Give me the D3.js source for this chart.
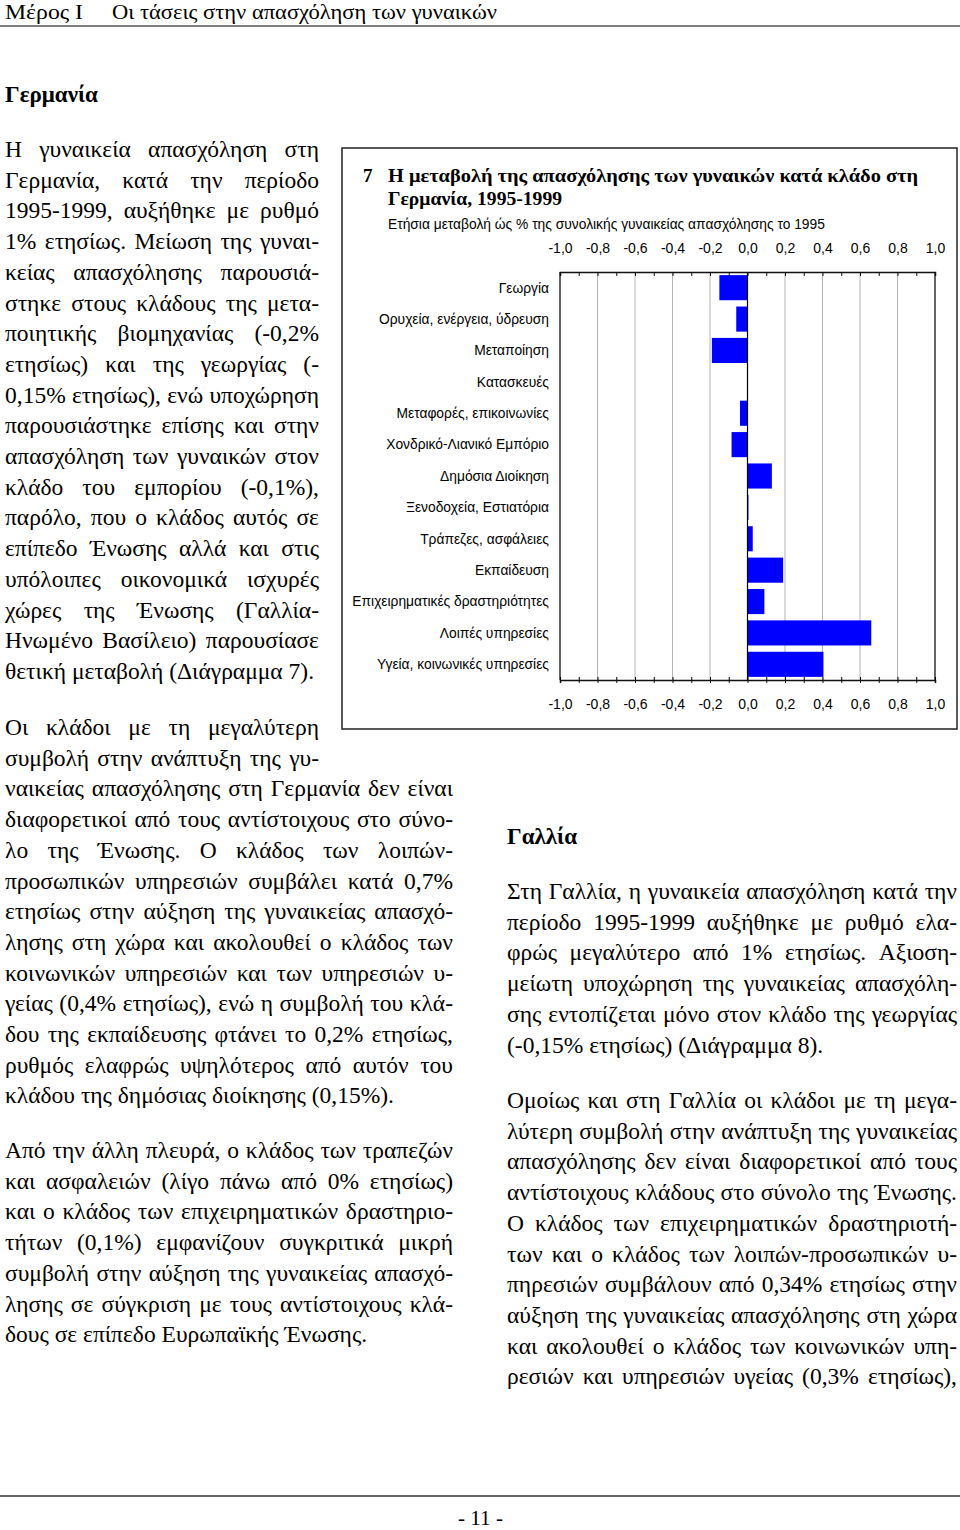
<!DOCTYPE html>
<html><head><meta charset="utf-8">
<script src="https://cdn.jsdelivr.net/npm/d3@7"></script>
<style>
html,body{margin:0;padding:0;background:#fff;}
svg{display:block;}
</style></head><body>
<svg id="page" width="960" height="1530"></svg>
<script>
// ---------------- DATA ----------------
const categories = ["Γεωργία","Ορυχεία, ενέργεια, ύδρευση","Μεταποίηση","Κατασκευές","Μεταφορές, επικοινωνίες","Χονδρικό-Λιανικό Εμπόριο","Δημόσια Διοίκηση","Ξενοδοχεία, Εστιατόρια","Τράπεζες, ασφάλειες","Εκπαίδευση","Επιχειρηματικές δραστηριότητες","Λοιπές υπηρεσίες","Υγεία, κοινωνικές υπηρεσίες"];
const values = [-0.15,-0.06,-0.19,0.0,-0.04,-0.085,0.13,0.005,0.028,0.19,0.09,0.66,0.405];
const tickValues = [-1.0,-0.8,-0.6,-0.4,-0.2,0.0,0.2,0.4,0.6,0.8,1.0];
const minorTickValues = [-1.0,-0.9,-0.8,-0.7,-0.6,-0.5,-0.4,-0.3,-0.2,-0.1,0.0,0.1,0.2,0.3,0.4,0.5,0.6,0.7,0.8,0.9,1.0];
const gridValues = [-0.8,-0.6,-0.4,-0.2,0.2,0.4,0.6,0.8];

const chartTitle1 = "Η μεταβολή της απασχόλησης των γυναικών κατά κλάδο στη";
const chartTitle2 = "Γερμανία, 1995-1999";
const chartNumber = "7";
const chartSubtitle = "Ετήσια μεταβολή ώς % της συνολικής γυναικείας απασχόλησης το 1995";

const headerLeft = "Μέρος Ι";
const headerRight = "Οι τάσεις στην απασχόληση των γυναικών";
const footerText = "- 11 -";
const heading1 = "Γερμανία";
const heading2 = "Γαλλία";

const para1 = ["Η γυναικεία απασχόληση στη","Γερμανία, κατά την περίοδο","1995-1999, αυξήθηκε με ρυθμό","1% ετησίως. Μείωση της γυναι-","κείας απασχόλησης παρουσιά-","στηκε στους κλάδους της μετα-","ποιητικής βιομηχανίας (-0,2%","ετησίως) και της γεωργίας (-","0,15% ετησίως), ενώ υποχώρηση","παρουσιάστηκε επίσης και στην","απασχόληση των γυναικών στον","κλάδο του εμπορίου (-0,1%),","παρόλο, που ο κλάδος αυτός σε","επίπεδο Ένωσης αλλά και στις","υπόλοιπες οικονομικά ισχυρές","χώρες της Ένωσης (Γαλλία-","Ηνωμένο Βασίλειο) παρουσίασε","θετική μεταβολή (Διάγραμμα 7)."];
const para2 = ["Οι κλάδοι με τη μεγαλύτερη","συμβολή στην ανάπτυξη της γυ-","ναικείας απασχόλησης στη Γερμανία δεν είναι","διαφορετικοί από τους αντίστοιχους στο σύνο-","λο της Ένωσης. Ο κλάδος των λοιπών-","προσωπικών υπηρεσιών συμβάλει κατά 0,7%","ετησίως στην αύξηση της γυναικείας απασχό-","λησης στη χώρα και ακολουθεί ο κλάδος των","κοινωνικών υπηρεσιών και των υπηρεσιών υ-","γείας (0,4% ετησίως), ενώ η συμβολή του κλά-","δου της εκπαίδευσης φτάνει το 0,2% ετησίως,","ρυθμός ελαφρώς υψηλότερος από αυτόν του","κλάδου της δημόσιας διοίκησης (0,15%)."];
const para3 = ["Από την άλλη πλευρά, ο κλάδος των τραπεζών","και ασφαλειών (λίγο πάνω από 0% ετησίως)","και ο κλάδος των επιχειρηματικών δραστηριο-","τήτων (0,1%) εμφανίζουν συγκριτικά μικρή","συμβολή στην αύξηση της γυναικείας απασχό-","λησης σε σύγκριση με τους αντίστοιχους κλά-","δους σε επίπεδο Ευρωπαϊκής Ένωσης."];
const para4 = ["Στη Γαλλία, η γυναικεία απασχόληση κατά την","περίοδο 1995-1999 αυξήθηκε με ρυθμό ελα-","φρώς μεγαλύτερο από 1% ετησίως. Αξιοση-","μείωτη υποχώρηση της γυναικείας απασχόλη-","σης εντοπίζεται μόνο στον κλάδο της γεωργίας","(-0,15% ετησίως) (Διάγραμμα 8)."];
const para5 = ["Ομοίως και στη Γαλλία οι κλάδοι με τη μεγα-","λύτερη συμβολή στην ανάπτυξη της γυναικείας","απασχόλησης δεν είναι διαφορετικοί από τους","αντίστοιχους κλάδους στο σύνολο της Ένωσης.","Ο κλάδος των επιχειρηματικών δραστηριοτή-","των και ο κλάδος των λοιπών-προσωπικών υ-","πηρεσιών συμβάλουν από 0,34% ετησίως στην","αύξηση της γυναικείας απασχόλησης στη χώρα","και ακολουθεί ο κλάδος των κοινωνικών υπη-","ρεσιών και υπηρεσιών υγείας (0,3% ετησίως),"];

// ---------------- PAGE ----------------
const svg = d3.select("#page");
const SERIF = "'Liberation Serif','Times New Roman',serif";
const SANS = "'Liberation Sans',Arial,sans-serif";
const BODY_SIZE = 23.5;
const LH = 30.7;

function measure(txt, size, family, weight) {
  const t = svg.append("text").attr("font-family", family).attr("font-size", size)
    .attr("font-weight", weight || "normal").text(txt);
  const w = t.node().getComputedTextLength();
  t.remove();
  return w;
}

function drawPara(lines, x0, baseline0, widths, lastJustified) {
  const g = svg.append("g").attr("font-family", SERIF).attr("font-size", BODY_SIZE).attr("fill", "#000");
  lines.forEach((line, i) => {
    const y = baseline0 + i * LH;
    const w = Array.isArray(widths) ? widths[i] : widths;
    const justify = (i < lines.length - 1) || lastJustified;
    const t = g.append("text").attr("y", y);
    if (!justify) { t.attr("x", x0).text(line); return; }
    const words = line.split(" ");
    const ws = words.map(wd => measure(wd, BODY_SIZE, SERIF));
    const gap = words.length > 1 ? (w - d3.sum(ws)) / (words.length - 1) : 0;
    let cx = x0;
    words.forEach((wd, k) => { t.append("tspan").attr("x", cx).text(wd); cx += ws[k] + gap; });
  });
}

// header
svg.append("text").attr("x", 5).attr("y", 19).attr("font-family", SERIF).attr("font-size", 21)
  .attr("textLength", 78).attr("lengthAdjust", "spacingAndGlyphs").text(headerLeft);
svg.append("text").attr("x", 112).attr("y", 19).attr("font-family", SERIF).attr("font-size", 21)
  .attr("textLength", 385).attr("lengthAdjust", "spacingAndGlyphs").text(headerRight);
svg.append("line").attr("x1", 0).attr("x2", 960).attr("y1", 26).attr("y2", 26).attr("stroke", "#555").attr("stroke-width", 1.6);

// footer
svg.append("line").attr("x1", 0).attr("x2", 960).attr("y1", 1496).attr("y2", 1496).attr("stroke", "#666").attr("stroke-width", 2);
svg.append("text").attr("x", 458).attr("y", 1525).attr("font-family", SERIF).attr("font-size", 20)
  .attr("textLength", 45).attr("lengthAdjust", "spacingAndGlyphs").text(footerText);

// headings
svg.append("text").attr("x", 5).attr("y", 102).attr("font-family", SERIF).attr("font-size", 23).attr("font-weight", "bold").text(heading1);
svg.append("text").attr("x", 507).attr("y", 844).attr("font-family", SERIF).attr("font-size", 23).attr("font-weight", "bold").text(heading2);

// paragraphs
drawPara(para1, 5, 157, 314, false);
drawPara(para2, 5, 735, [314, 314, 448, 448, 448, 448, 448, 448, 448, 448, 448, 448, 448], false);
drawPara(para3, 5, 1158, 448, false);
drawPara(para4, 507, 899, 450, false);
drawPara(para5, 507, 1108, 450, true);

// ---------------- CHART ----------------
svg.append("rect").attr("x", 342).attr("y", 148).attr("width", 615).attr("height", 581)
  .attr("fill", "none").attr("stroke", "#222").attr("stroke-width", 1.5);

svg.append("text").attr("x", 363).attr("y", 182).attr("font-family", SERIF).attr("font-size", 19).attr("font-weight", "bold").text(chartNumber);
svg.append("text").attr("x", 388).attr("y", 182).attr("font-family", SERIF).attr("font-size", 19).attr("font-weight", "bold")
  .attr("textLength", 530).attr("lengthAdjust", "spacingAndGlyphs").text(chartTitle1);
svg.append("text").attr("x", 388).attr("y", 205).attr("font-family", SERIF).attr("font-size", 19).attr("font-weight", "bold")
  .attr("textLength", 174).attr("lengthAdjust", "spacingAndGlyphs").text(chartTitle2);
svg.append("text").attr("x", 388).attr("y", 229).attr("font-family", SANS).attr("font-size", 13.8).text(chartSubtitle);

const xL = 560, xR = 935, yT = 272, yB = 680;
const x = d3.scaleLinear().domain([-1, 1]).range([xL, xR]);
const y = d3.scaleBand().domain(categories).range([yT, yB]).paddingInner(0.2).paddingOuter(0.1);
const loc = d3.formatLocale({decimal: ",", thousands: ".", grouping: [3], currency: ["", "€"], minus: "-"});
const fmt = loc.format(".1f");

const chart = svg.append("g");
chart.selectAll("line.grid").data(gridValues).join("line").attr("class", "grid")
  .attr("x1", d => x(d)).attr("x2", d => x(d)).attr("y1", yT).attr("y2", yB)
  .attr("stroke", "#b4b4b4").attr("stroke-width", 1);

chart.selectAll("rect.bar").data(values).join("rect").attr("class", "bar")
  .attr("x", d => x(Math.min(0, d))).attr("width", d => Math.abs(x(d) - x(0)))
  .attr("y", (d, i) => y(categories[i])).attr("height", y.bandwidth())
  .attr("fill", "#0000ff");

chart.append("line").attr("x1", x(0)).attr("x2", x(0)).attr("y1", yT).attr("y2", yB).attr("stroke", "#000").attr("stroke-width", 1.2);
chart.append("line").attr("x1", xL).attr("x2", xL).attr("y1", yT).attr("y2", yB).attr("stroke", "#111").attr("stroke-width", 1.3);
chart.append("line").attr("x1", xR).attr("x2", xR).attr("y1", yT).attr("y2", yB).attr("stroke", "#111").attr("stroke-width", 1.3);

const topMinor = chart.append("g").attr("transform", `translate(0,${yT})`)
  .call(d3.axisTop(x).tickValues(minorTickValues).tickSize(-4).tickFormat(""));
const botMinor = chart.append("g").attr("transform", `translate(0,${yB})`)
  .call(d3.axisBottom(x).tickValues(minorTickValues).tickSize(3).tickFormat(""));
chart.append("g").attr("transform", `translate(0,${yB})`)
  .call(d3.axisBottom(x).tickValues(minorTickValues).tickSize(-3).tickFormat(""))
  .call(g => g.select(".domain").remove());
[topMinor, botMinor].forEach(g => {
  g.select(".domain").attr("stroke", "#111").attr("stroke-width", 1.5);
  g.selectAll(".tick line").attr("stroke", "#111").attr("stroke-width", 1);
});

const topLab = chart.append("g").attr("transform", `translate(0,${yT})`)
  .call(d3.axisTop(x).tickValues(tickValues).tickSize(0).tickPadding(19).tickFormat(fmt));
const botLab = chart.append("g").attr("transform", `translate(0,${yB})`)
  .call(d3.axisBottom(x).tickValues(tickValues).tickSize(0).tickPadding(19).tickFormat(fmt));
[topLab, botLab].forEach(g => {
  g.select(".domain").remove();
  g.selectAll("text").attr("font-family", SANS).attr("font-size", 14).attr("fill", "#000");
});

chart.selectAll("text.cat").data(categories).join("text").attr("class", "cat")
  .attr("x", 549).attr("y", d => y(d) + y.bandwidth() / 2).attr("dy", "0.35em")
  .attr("text-anchor", "end").attr("font-family", SANS).attr("font-size", 13.8).attr("fill", "#000")
  .text(d => d);
</script>
</body></html>
